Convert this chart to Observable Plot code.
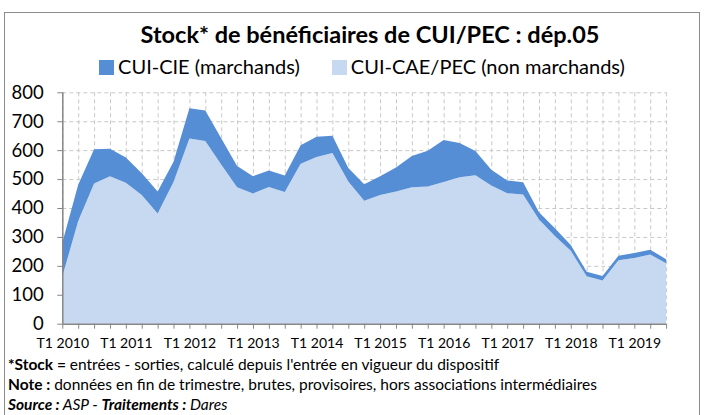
<!DOCTYPE html>
<html>
<head>
<meta charset="utf-8">
<script src="https://cdn.jsdelivr.net/npm/d3@7"></script>
<script src="https://cdn.jsdelivr.net/npm/@observablehq/plot@0.6"></script>
<style>
  html, body { margin: 0; padding: 0; background: #fff; }
  #frame { position: relative; width: 704px; height: 415px; overflow: hidden; font-family: Lato, "Open Sans", sans-serif; color: #000; }
  #border { position: absolute; left: 4px; top: 12px; width: 694px; height: 420px; border: 1px solid #8c8c8c; }
  #title { position: absolute; left: 0; width: 740px; top: 20px; text-align: center; font-weight: bold; font-size: 23.5px; }
  #legend { position: absolute; left: 0; width: 724px; top: 54px; text-align: center; font-size: 20px; white-space: nowrap; }
  .sw { display: inline-block; width: 15px; height: 15px; vertical-align: -1px; margin-right: 4px; }
  .item { margin: 0 16px; }
  #chart { position: absolute; left: 0; top: 80px; }
  .note { position: absolute; left: 8px; font-size: 15.5px; white-space: nowrap; }
</style>
</head>
<body>
<div id="frame">
  <div id="border"></div>
  <div id="title"></div>
  <div id="legend"></div>
  <div id="chart"></div>
  <div class="note" id="n1" style="top:355px"><b>*Stock =</b> entrées - sorties, calculé depuis l'entrée en vigueur du dispositif</div>
  <div class="note" id="n2" style="top:375px"><b>Note :</b> données en fin de trimestre, brutes, provisoires, hors associations intermédiaires</div>
  <div class="note" id="n3" style="top:395px"><i><b>Source :</b> ASP - <b>Traitements :</b> Dares</i></div>
</div>
<script>
const titleText = "Stock* de bénéficiaires de CUI/PEC : dép.05";
const seriesNames = ["CUI-CIE (marchands)", "CUI-CAE/PEC (non marchands)"];
const seriesColors = ["#558ed5", "#c6d9f1"];

const quarters = [
  "T1 2010","T2 2010","T3 2010","T4 2010",
  "T1 2011","T2 2011","T3 2011","T4 2011",
  "T1 2012","T2 2012","T3 2012","T4 2012",
  "T1 2013","T2 2013","T3 2013","T4 2013",
  "T1 2014","T2 2014","T3 2014","T4 2014",
  "T1 2015","T2 2015","T3 2015","T4 2015",
  "T1 2016","T2 2016","T3 2016","T4 2016",
  "T1 2017","T2 2017","T3 2017","T4 2017",
  "T1 2018","T2 2018","T3 2018","T4 2018",
  "T1 2019","T2 2019","T3 2019"
];
// CUI-CAE/PEC (non marchands)
const cae = [163,355,485,510,487,445,381,490,640,632,550,472,450,473,455,553,576,590,492,425,
             445,457,472,474,490,506,513,478,451,447,360,303,252,164,149,219,227,239,209];
// CUI-CIE (marchands)
const cie = [117,125,118,95,88,75,76,70,105,105,91,73,60,57,57,64,70,60,46,57,
             65,83,108,124,145,119,84,54,44,42,25,27,20,16,16,16,17,17,14];
const yTicks = [0,100,200,300,400,500,600,700,800];
const xLabelTicks = ["T1 2010","T1 2011","T1 2012","T1 2013","T1 2014","T1 2015","T1 2016","T1 2017","T1 2018","T1 2019"];

document.getElementById("title").textContent = titleText;
const leg = document.getElementById("legend");
seriesNames.forEach((n, k) => {
  const s = document.createElement("span");
  s.className = "item";
  s.innerHTML = `<span class="sw" style="background:${seriesColors[k]}"></span>${n}`;
  leg.appendChild(s);
});

const rows = [];
quarters.forEach((q, i) => {
  rows.push({i, series: seriesNames[1], value: cae[i]});
  rows.push({i, series: seriesNames[0], value: cie[i]});
});
const idx = quarters.map((q, i) => i);
const labelIdx = xLabelTicks.map(l => quarters.indexOf(l));

const W = 704, H = 272;
const chart = Plot.plot({
  width: W, height: H,
  marginLeft: 62.3, marginRight: 37.9, marginTop: 12.3, marginBottom: 28.3,
  style: {fontFamily: "Lato, 'Open Sans', sans-serif", background: "transparent", overflow: "visible"},
  x: {domain: [0, quarters.length - 1]},
  y: {domain: [0, 800]},
  color: {domain: seriesNames, range: seriesColors},
  marks: [
    Plot.gridY(yTicks, {stroke: "#c8c8c8", strokeOpacity: 1, strokeDasharray: "4,3"}),
    Plot.gridX(idx, {stroke: "#c8c8c8", strokeOpacity: 1, strokeDasharray: "4,3"}),
    Plot.areaY(rows, {x: "i", y: "value", fill: "series", order: [seriesNames[1], seriesNames[0]]}),
    Plot.ruleX([0], {stroke: "#868686", strokeWidth: 1.5}),
    Plot.ruleY([0], {stroke: "#868686", strokeWidth: 1.5}),
    Plot.axisY(yTicks, {tickSize: 5, tickPadding: 14, stroke: "#868686", fill: "#000", fontSize: 18.5, label: null}),
    Plot.axisX(idx, {tickSize: 5, stroke: "#868686", text: null, label: null}),
    Plot.axisX(labelIdx, {tickSize: 0, tickPadding: 14, fontSize: 14, fill: "#000", label: null,
      tickFormat: i => quarters[i]})
  ]
});
document.getElementById("chart").appendChild(chart);
</script>
</body>
</html>
